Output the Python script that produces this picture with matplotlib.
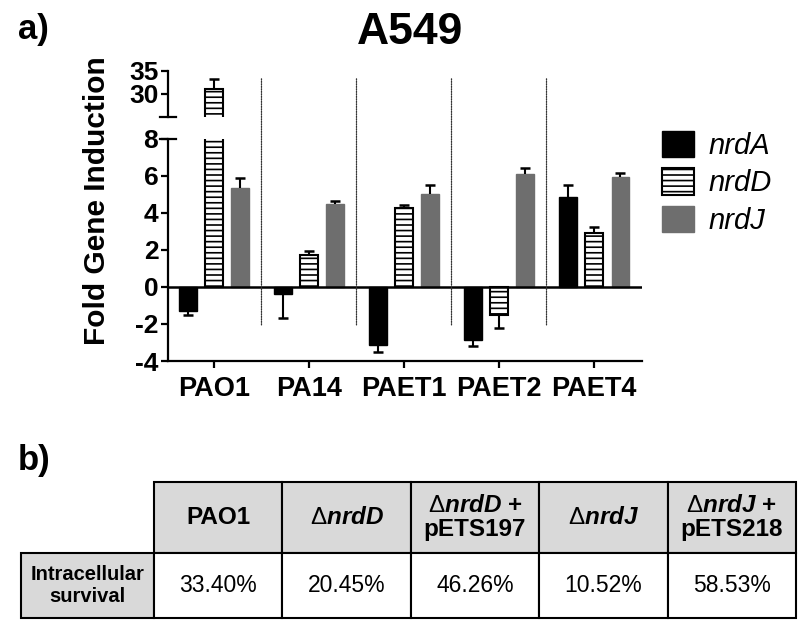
import numpy as np
import matplotlib
matplotlib.use("Agg")
import matplotlib.pyplot as plt
from matplotlib.patches import ConnectionPatch
import matplotlib.transforms as mtransforms

plt.rcParams['font.family'] = ['Liberation Sans', 'DejaVu Sans']
plt.rcParams['mathtext.fontset'] = 'custom'
plt.rcParams['mathtext.rm'] = 'Liberation Sans'
plt.rcParams['mathtext.it'] = 'Liberation Sans:italic:bold'
plt.rcParams['mathtext.bf'] = 'Liberation Sans:bold'
plt.rcParams['hatch.linewidth'] = 1.2
plt.rcParams['axes.unicode_minus'] = False

# panel a data
strains = ["PAO1", "PA14", "PAET1", "PAET2", "PAET4"]
genes = ["nrdA", "nrdD", "nrdJ"]
nrdA = [-1.31, -0.40, -3.16, -2.85, 4.86]
nrdA_err = [0.22, 1.27, 0.33, 0.33, 0.64]
nrdD = [31.0, 1.73, 4.27, -1.52, 2.90]
nrdD_err = [2.3, 0.22, 0.16, 0.68, 0.34]
nrdJ = [5.35, 4.49, 5.03, 6.10, 5.94]
nrdJ_err = [0.55, 0.16, 0.47, 0.33, 0.22]

# panel b data
table_cols = ["PAO1", r"$\Delta\mathit{nrdD}$", "$\\Delta\\mathit{nrdD}$ +\npETS197",
              r"$\Delta\mathit{nrdJ}$", "$\\Delta\\mathit{nrdJ}$ +\npETS218"]
row_label = "Intracellular\nsurvival"
survival = ["33.40%", "20.45%", "46.26%", "10.52%", "58.53%"]

fig = plt.figure(figsize=(8, 6.22), dpi=100)
ax = fig.add_axes([0.21, 0.4196, 0.5925, 0.357])
ax_top = fig.add_axes([0.21, 0.8119, 0.5925, 0.074])
ax_top.patch.set_visible(False)

x = np.arange(len(strains))
w = 0.18
off = 0.274
styles = [
    dict(color="black", edgecolor="black"),
    dict(color="white", edgecolor="black", hatch="---", linewidth=1.5),
    dict(color="#6e6e6e", edgecolor="#6e6e6e"),
]
series = [(nrdA, nrdA_err), (nrdD, nrdD_err), (nrdJ, nrdJ_err)]

handles = []
for a in (ax, ax_top):
    for i, (vals, errs) in enumerate(series):
        vals = np.array(vals)
        errs = np.array(errs)
        xi = x + (i - 1) * off
        b = a.bar(xi, vals, w, label=genes[i], zorder=2, **styles[i])
        if a is ax:
            handles.append(b)
        tips = vals + np.sign(vals) * errs
        a.vlines(xi, vals, tips, color="black", lw=1.5, zorder=3)
        a.plot(xi, tips, ls="none", marker="_", ms=7.5, mew=1.8, color="black", zorder=3)

ax.set_xlim(-0.484, 4.505)
ax_top.set_xlim(-0.484, 4.505)
ax.set_ylim(-4, 8)
ax_top.set_ylim(25, 35)
ax.set_yticks(np.arange(-4, 9, 2))
ax_top.set_yticks([30, 35])
ax.set_xticks(x)
ax.set_xticklabels(strains)
ax.axhline(0, color="black", lw=1.8, zorder=4)

for s in ["top", "right"]:
    ax.spines[s].set_visible(False)
for s in ["top", "right", "bottom"]:
    ax_top.spines[s].set_visible(False)
for a in (ax, ax_top):
    a.spines["left"].set_linewidth(1.6)
    a.spines["bottom"].set_linewidth(1.6)
    a.tick_params(width=1.6, length=5, labelsize=19, pad=2)
    for t in a.get_yticklabels():
        t.set_fontweight("bold")
ax_top.set_xticks([])
ax.tick_params(axis="x", labelsize=19.5, pad=6)
for t in ax.get_xticklabels():
    t.set_fontweight("bold")

# axis break marks
tb = mtransforms.blended_transform_factory(ax.transAxes, ax.transData)
ax.plot([-0.016, 0.016], [8, 8], color="black", lw=1.6, transform=tb, clip_on=False)
tt = mtransforms.blended_transform_factory(ax_top.transAxes, ax_top.transData)
ax_top.plot([-0.016, 0.016], [25, 25], color="black", lw=1.6, transform=tt, clip_on=False)

# dotted group separators
for xs in x[:-1] + 0.5:
    con = ConnectionPatch(xyA=(xs, -2.05), coordsA=ax.transData,
                          xyB=(xs, 33.3), coordsB=ax_top.transData,
                          linestyle=(0, (1, 1)), lw=0.9, color="#333333")
    fig.add_artist(con)

fig.legend(handles=handles, labels=genes, loc="upper left",
           bbox_to_anchor=(0.8275, 0.79), frameon=False, borderpad=0,
           borderaxespad=0, handlelength=1.08, handleheight=1.0,
           labelspacing=0.3, handletextpad=0.5,
           prop=dict(size=21, style="italic"))

fig.text(0.512, 0.947, "A549", ha="center", va="center", fontsize=32, fontweight="bold")
fig.text(0.022, 0.952, "a)", ha="left", va="center", fontsize=25, fontweight="bold")
fig.text(0.121, 0.678, "Fold Gene Induction", ha="center", va="center",
         rotation=90, fontsize=21.5, fontweight="bold")

# panel b table
fig.text(0.022, 0.259, "b)", ha="left", va="center", fontsize=25, fontweight="bold")
ax_tab = fig.add_axes([0.02625, 0.0064, 0.96875, 0.2186])
ax_tab.axis("off")
col_w = [133] + [128.4] * len(table_cols)
tab = ax_tab.table(cellText=[[row_label] + survival], colLabels=[""] + table_cols,
                   colWidths=col_w, cellLoc="center", bbox=[0, 0, 1, 1])
tab.auto_set_font_size(False)
for (r, c), cell in tab.get_celld().items():
    cell.set_height(71 if r == 0 else 65)
    cell.set_linewidth(1.5)
    txt = cell.get_text()
    if r == 0:
        cell.set_facecolor("#d9d9d9")
        txt.set_fontsize(17.5)
        txt.set_fontweight("bold")
        txt.set_linespacing(1.05)
    else:
        txt.set_fontsize(16.5)
    if r == 0 and c == 0:
        cell.visible_edges = ""
        cell.set_facecolor("none")
    if r == 1 and c == 0:
        cell.set_facecolor("#d9d9d9")
        cell._loc = "right"
        txt.set_fontsize(14.5)
        txt.set_fontweight("bold")
        txt.set_linespacing(1.15)

fig.savefig("out.png", dpi=100)
